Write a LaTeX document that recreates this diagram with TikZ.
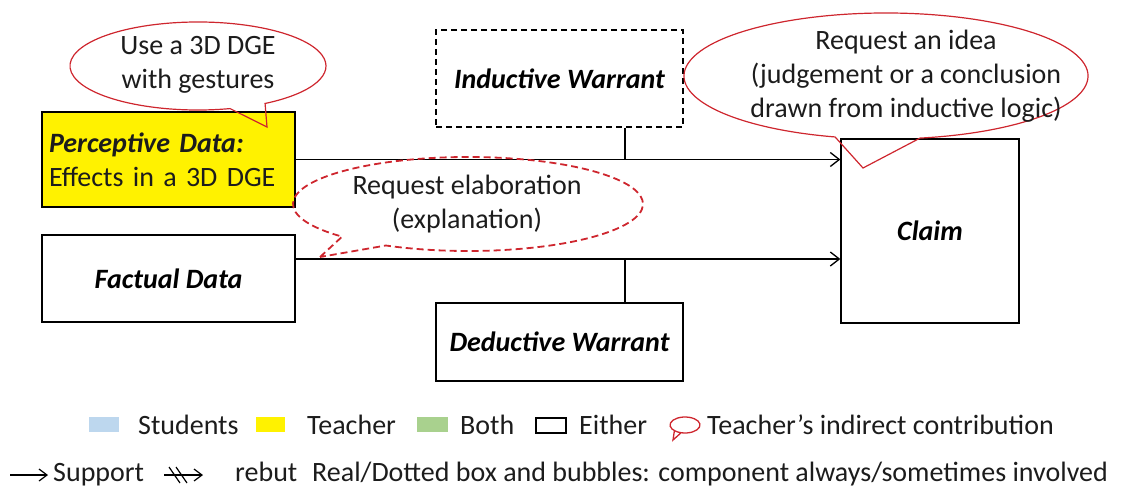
\documentclass[tikz,border=0pt]{standalone}
\usepackage{fontspec}
\setmainfont{Carlito}
\usetikzlibrary{arrows.meta,calc}
\definecolor{bubred}{RGB}{206,38,46}
\definecolor{stublue}{RGB}{189,215,238}
\definecolor{bothgreen}{RGB}{169,209,142}
\definecolor{txt}{RGB}{28,28,28}
\begin{document}
\begin{tikzpicture}[x=1pt,y=-1pt,
  every node/.style={font=\fontsize{28}{34}\selectfont, text=txt},
  box/.style={draw=black, line width=1.3pt, inner sep=0pt},
  dbox/.style={box, dash pattern=on 6pt off 4pt},
  lbl/.style={font=\fontsize{28}{34}\selectfont\bfseries\itshape, text=black},
  conn/.style={draw=black, line width=1.3pt},
  supp/.style={conn, -{Straight Barb[length=9pt,width=14pt,line width=1.3pt]}},
  bubble/.style={draw=bubred, line width=1.2pt, line join=miter},
  dbubble/.style={bubble, line width=1.8pt, dash pattern=on 7pt off 4pt},
  btext/.style={align=center, inner sep=0pt},
  ltext/.style={anchor=base west, inner sep=0pt}]
\useasboundingbox (0,0) rectangle (1131,486);

% boxes
\node[box, fill=yellow, minimum width=253pt, minimum height=95pt,
      text width=239pt, align=left] (perc) at (168.5,159.5)
  {{\bfseries\itshape Perceptive Data:}\\Effects in a 3D DGE};
\node[box, minimum width=253pt, minimum height=87pt, lbl] (fact) at (168.5,278.5) {Factual Data};
\node[dbox, minimum width=247pt, minimum height=97pt, lbl] (ind) at (559.5,78.5) {Inductive Warrant};
\node[box, minimum width=247pt, minimum height=78pt, lbl] (ded) at (559.5,342) {Deductive Warrant};
\node[box, minimum width=178pt, minimum height=184pt, lbl] (claim) at (930,231) {Claim};

% connectors
\coordinate (j1) at (625,160);
\coordinate (j2) at (625,259);
\draw[supp] (perc.east) -- (perc.east -| claim.west);
\draw[supp] (fact.east |- j2) -- (j2 -| claim.west);
\draw[conn] (ind.south -| j1) -- (j1);
\draw[conn] (ded.north -| j2) -- (j2);

% bubble 1
\coordinate (b1c) at (198,66);
\coordinate (b1t) at (267,127);
\draw[bubble] (b1t) -- ($(b1c)+(75.5:128 and 44)$)
  arc[start angle=75.5, end angle=418.4, x radius=128, y radius=44] -- cycle;
\node[btext] (b1) at (198,65) {Use a 3D DGE\\with gestures};

% bubble 2 (dashed)
\coordinate (b2c) at (468,204);
\coordinate (b2t) at (320,257);
\draw[dbubble] (b2t) -- ($(b2c)+(136:175 and 47)$)
  arc[start angle=136, end angle=478, x radius=175, y radius=47] -- cycle;
\node[btext] (b2) at (467,204) {Request elaboration\\(explanation)};

% bubble 3
\coordinate (b3c) at (886,76);
\coordinate (b3t) at (863,168);
\draw[bubble] (b3t) -- ($(b3c)+(104.6:202 and 63)$)
  arc[start angle=104.6, end angle=440.3, x radius=202, y radius=63] -- cycle;
\node[btext] (b3) at (906,76) {Request an idea\\(judgement or a conclusion\\drawn from inductive logic)};

% legend row 1
\fill[stublue] (89,417) rectangle (119,432);
\node[ltext] (l1) at (138,434) {Students};
\fill[yellow] (256,417) rectangle (285,432);
\node[ltext] (l2) at (307,434) {Teacher};
\fill[bothgreen] (417,417) rectangle (448,432);
\node[ltext] (l3) at (460,434) {Both};
\draw[black, line width=1.3pt] (536,418) rectangle (566,433);
\node[ltext] (l4) at (579,434) {Either};
\coordinate (lbc) at (685,425);
\coordinate (lbt) at (673,440);
\draw[bubble, line width=1.3pt] (lbt) -- ($(lbc)+(105:15 and 8)$)
  arc[start angle=105, end angle=495, x radius=15, y radius=8] -- cycle;
\node[ltext] (l5) at (707,434) {Teacher’s indirect contribution};

% legend row 2
\coordinate (s1) at (10,475);
\coordinate (s2) at (48,475);
\draw[conn, -{Straight Barb[length=8pt,width=12pt,line width=1.2pt]}] (s1) -- (s2);
\node[ltext] (l6) at (53,481) {Support};
\coordinate (r1) at (164,475);
\coordinate (r2) at (203,475);
\draw[conn, -{Straight Barb[length=8pt,width=12pt,line width=1.2pt]}] (r1) -- (r2);
\draw[conn, line width=1.2pt] (169,467) -- (180,483);
\draw[conn, line width=1.2pt] (176,467) -- (187,483);
\node[ltext] (l7) at (235,481) {rebut};
\node[ltext] (l8) at (312,481) {Real/Dotted box and bubbles: component always/sometimes involved};
\end{tikzpicture}
\end{document}
